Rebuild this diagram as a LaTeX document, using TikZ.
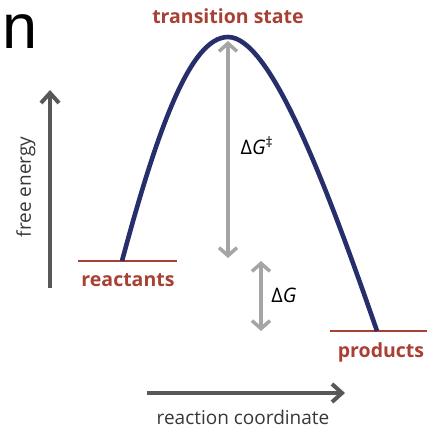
\documentclass[tikz,border=0pt]{standalone}
\usepackage{fontspec}
\setmainfont{Open Sans}
\newfontfamily\panelfont{Liberation Sans}
\usetikzlibrary{arrows.meta}
\definecolor{CurvaAzul}{RGB}{38,46,108}
\definecolor{NivelRojo}{RGB}{168,64,52}
\definecolor{GrisClaro}{RGB}{165,165,165}
\definecolor{GrisOscuro}{RGB}{88,88,88}
\definecolor{TextoGris}{RGB}{55,55,55}

\begin{document}
\begin{tikzpicture}[x=1pt, y=-1pt,
  nivel/.style={draw=NivelRojo, line width=1.6pt},
  etiquetanivel/.style={text=NivelRojo, inner sep=0pt, font=\bfseries\fontsize{19.5}{22}\selectfont},
  salto/.style={GrisClaro, line width=3.5pt, {Straight Barb[length=8pt,width=18pt]}-{Straight Barb[length=8pt,width=18pt]}},
  eje/.style={GrisOscuro, line width=4pt, -{Straight Barb[length=10pt,width=18pt]}},
  etiquetaeje/.style={text=TextoGris, inner sep=0pt, font=\fontsize{19}{22}\selectfont},
  etiquetasalto/.style={inner sep=0pt, font=\fontsize{20}{23}\selectfont}]
  \useasboundingbox (0,0) rectangle (427,432);

  \node[inner sep=0pt, anchor=base west, font=\panelfont\fontsize{63}{70}\selectfont] (panel) at (2.5,48) {n};

  % niveles de energia
  \coordinate (reacIzq) at (78,261);
  \coordinate (reacDer) at (177,261);
  \coordinate (reacIni) at (122,261);
  \coordinate (prodIzq) at (330,331);
  \coordinate (prodDer) at (427,331);
  \coordinate (prodFin) at (377,331);
  \coordinate (cima) at (228,37);
  \draw[nivel] (reacIzq) -- (reacDer);
  \draw[nivel] (prodIzq) -- (prodDer);
  \node[etiquetanivel] (reactivos) at (128,280) {reactants};
  \node[etiquetanivel] (productos) at (381,352) {products};
  \node[etiquetanivel] (transicion) at (228,16) {transition state};

  % curva de reaccion
  \draw[CurvaAzul, line width=4.6pt] (reacIni) .. controls (157,131) and (190,37) .. (cima)
    .. controls (270,37) and (325,181) .. (prodFin);

  % diferencias de energia
  \coordinate (actArriba) at (228,41);
  \coordinate (actAbajo) at (228,258);
  \coordinate (dgArriba) at (261,261);
  \coordinate (dgAbajo) at (261,331);
  \draw[salto] (actAbajo) -- (actArriba);
  \draw[salto] (dgAbajo) -- (dgArriba);
  \node[etiquetasalto] (activacion) at (257,146) {Δ\textit{G}\textsuperscript{‡}};
  \node[etiquetasalto] (deltaG) at (284,295) {Δ\textit{G}};

  % ejes
  \coordinate (energiaBase) at (50,288);
  \coordinate (energiaPunta) at (50,90);
  \coordinate (coordIni) at (147,393);
  \coordinate (coordPunta) at (345,393);
  \draw[eje] (energiaBase) -- (energiaPunta);
  \draw[eje] (coordIni) -- (coordPunta);
  \node[etiquetaeje, rotate=90] (energia) at (26,187) {free energy};
  \node[etiquetaeje] (coordenada) at (243,417) {reaction coordinate};
\end{tikzpicture}
\end{document}
